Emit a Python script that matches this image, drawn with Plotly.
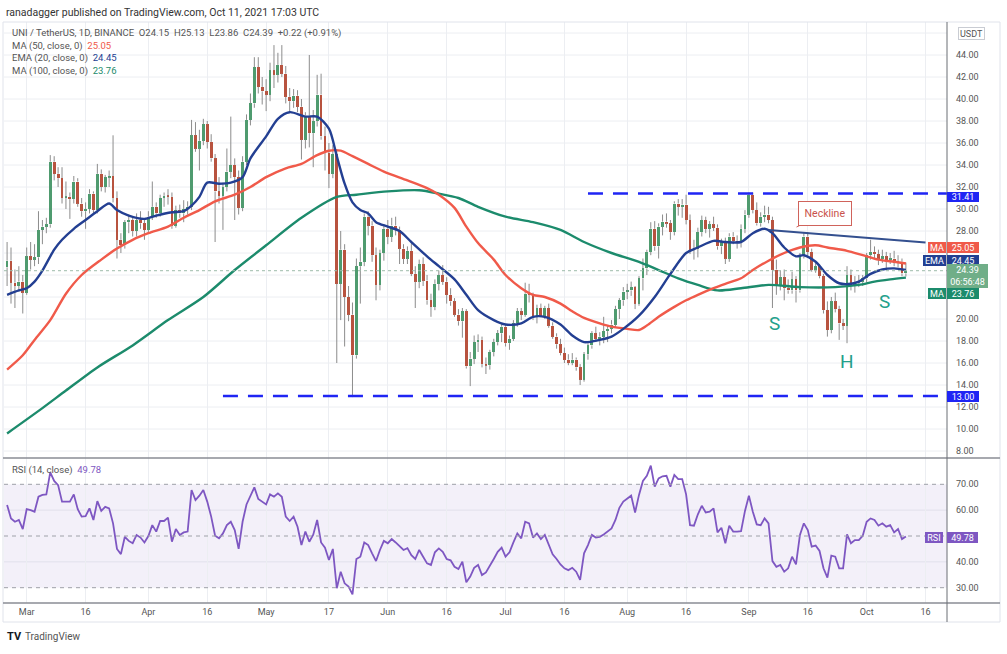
import pandas as pd
import plotly.graph_objects as go

# ---------------- data ----------------
dates = pd.date_range("2021-02-24", "2021-10-11", freq="D")

open_ = [
    # Feb 24-28
    24.7, 25.3, 23.3, 23.0, 23.4,
    # Mar
    22.4, 25.7, 25.4, 25.6, 28.1, 28.4, 28.6, 34.3, 33.2, 32.8, 31.0, 31.1, 30.9, 32.5, 30.5, 29.8,
    30.0, 31.4, 29.9, 33.2, 32.0, 32.9, 33.0, 31.0, 27.2, 26.7, 28.8, 29.0, 28.0, 29.0, 28.7,
    # Apr
    28.1, 29.3, 30.2, 29.6, 31.0, 31.2, 31.1, 28.5, 29.9, 29.6, 30.0, 30.2, 36.7, 35.5, 36.2,
    37.7, 36.1, 34.6, 31.6, 31.2, 32.0, 33.4, 34.0, 32.9, 30.1, 34.3, 38.1, 39.6, 42.9, 41.1,
    # May
    40.7, 40.4, 42.6, 42.2, 43.1, 42.3, 40.2, 39.8, 40.3, 39.3, 36.3, 38.5, 36.9, 38.0, 40.4, 36.6,
    35.1, 33.2, 35.0, 23.2, 26.3, 22.0, 20.4, 16.7, 24.8, 25.2, 29.3, 28.5, 25.8, 23.1, 26.0,
    # Jun
    28.2, 27.5, 28.5, 28.1, 26.4, 25.5, 26.2, 24.1, 23.4, 25.0, 23.5, 21.7, 21.1, 23.2, 24.0,
    23.4, 22.2, 21.6, 20.4, 19.8, 20.7, 15.7, 16.4, 17.9, 18.1, 15.9, 15.8, 17.0, 17.9, 18.7,
    # Jul
    19.3, 17.8, 18.2, 19.6, 20.7, 20.4, 22.3, 22.2, 20.2, 21.0, 20.3, 21.0, 19.4, 18.4, 17.7, 16.9,
    16.3, 16.0, 16.3, 15.6, 14.5, 16.8, 17.6, 18.7, 18.2, 18.4, 18.9, 19.1, 19.5, 20.9, 21.7,
    # Aug
    22.5, 22.6, 22.9, 21.4, 23.7, 24.6, 26.1, 28.2, 26.6, 28.4, 28.85, 28.7, 27.9, 30.5, 30.2, 30.4,
    29.0, 26.3, 26.4, 27.9, 29.0, 28.2, 28.6, 28.3, 26.6, 27.0, 25.5, 27.5, 27.1, 26.9, 28.2,
    # Sep
    29.5, 31.3, 29.9, 28.7, 29.3, 29.5, 29.0, 24.5, 23.1, 23.8, 22.8, 22.6, 23.6, 22.6, 25.7,
    27.5, 26.1, 24.5, 24.8, 23.9, 20.8, 19.0, 21.6, 20.9, 19.6, 19.4, 24.0, 23.0, 23.3, 23.4,
    # Oct 1-11
    23.7, 25.8, 26.1, 25.9, 25.5, 25.7, 25.4, 25.5, 25.1, 25.2, 24.15,
]
high = [
    27.0, 26.5, 24.5, 24.8, 24.0,
    26.5, 27.0, 26.8, 29.8, 29.0, 29.2, 34.9, 34.8, 33.8, 33.8, 32.5, 31.5, 33.0, 32.8, 31.0, 30.6,
    31.8, 31.6, 34.1, 33.6, 33.1, 33.5, 36.7, 31.6, 27.8, 29.0, 29.5, 29.2, 29.6, 29.8, 29.0,
    29.8, 32.5, 30.6, 31.3, 31.5, 31.8, 31.5, 30.3, 30.4, 30.8, 30.7, 38.1, 37.9, 37.2, 38.2,
    38.0, 36.8, 35.0, 32.9, 32.4, 35.5, 38.4, 34.6, 33.5, 34.8, 38.6, 40.5, 43.8, 43.8, 42.0,
    41.8, 43.3, 44.9, 44.2, 44.9, 43.0, 41.0, 40.9, 40.8, 40.0, 38.8, 44.0, 39.0, 42.2, 42.3, 37.5,
    36.0, 35.8, 35.4, 28.0, 26.8, 23.0, 21.5, 25.5, 26.5, 29.6, 29.8, 28.9, 26.5, 26.3, 28.6,
    29.0, 29.2, 29.3, 28.4, 26.8, 26.6, 26.9, 24.8, 25.4, 25.6, 24.0, 22.3, 23.6, 24.4, 24.9,
    23.8, 22.8, 21.9, 20.9, 21.0, 20.9, 17.0, 18.5, 18.6, 18.4, 16.5, 17.2, 18.2, 19.0, 19.6,
    19.5, 18.5, 19.9, 21.0, 21.0, 23.3, 23.2, 22.4, 21.3, 21.4, 21.2, 21.4, 19.7, 18.7, 18.2, 17.4,
    16.8, 16.9, 16.5, 15.9, 17.0, 17.8, 18.9, 19.3, 18.8, 20.2, 19.4, 19.9, 21.2, 21.9, 22.9,
    23.2, 23.4, 23.0, 23.9, 25.5, 26.3, 28.8, 28.9, 28.7, 29.5, 29.6, 29.0, 30.7, 30.9, 30.9, 31.3,
    29.5, 27.2, 28.3, 29.4, 29.3, 28.9, 29.3, 28.6, 27.3, 27.4, 27.8, 27.9, 27.6, 28.6, 29.9,
    31.5, 31.5, 30.6, 29.7, 30.3, 30.2, 29.3, 25.4, 24.4, 24.5, 23.6, 24.3, 23.9, 26.0, 27.8,
    27.9, 26.4, 25.2, 25.0, 24.1, 21.6, 22.0, 22.4, 21.2, 20.0, 24.8, 24.5, 23.9, 24.0, 24.0,
    26.0, 27.2, 26.6, 26.3, 26.3, 26.1, 26.0, 26.2, 25.8, 25.5, 25.13,
]
low = [
    23.0, 21.4, 21.0, 22.5, 20.5,
    22.2, 24.5, 24.8, 25.0, 26.8, 27.8, 28.3, 32.6, 32.0, 30.5, 30.0, 29.1, 30.5, 30.2, 29.3, 28.2,
    29.6, 29.5, 29.6, 31.6, 31.5, 32.0, 30.6, 25.5, 26.0, 26.4, 27.8, 27.5, 27.5, 28.2, 27.2,
    27.8, 29.0, 29.2, 29.3, 30.2, 30.4, 28.2, 28.3, 29.2, 28.8, 29.5, 29.9, 35.2, 33.5, 35.8,
    35.5, 34.3, 27.0, 30.5, 28.1, 31.6, 32.8, 29.0, 29.5, 29.8, 34.0, 37.6, 39.2, 40.5, 39.5,
    38.9, 39.8, 41.0, 41.5, 42.0, 39.6, 38.8, 39.2, 38.8, 34.5, 35.5, 35.6, 33.8, 37.5, 36.3, 33.5,
    31.9, 32.8, 16.0, 19.9, 17.5, 19.8, 12.9, 16.4, 21.4, 24.8, 27.6, 25.2, 21.7, 22.6, 25.3,
    26.8, 27.0, 27.6, 25.0, 25.0, 25.0, 23.9, 21.0, 22.8, 23.0, 21.3, 20.2, 20.8, 22.6, 23.1,
    21.4, 21.2, 20.2, 19.4, 18.3, 15.5, 13.9, 15.9, 17.0, 15.6, 15.0, 15.4, 16.6, 17.6, 17.9,
    17.5, 17.2, 18.0, 19.3, 19.9, 20.2, 21.5, 19.9, 19.6, 20.2, 20.0, 19.2, 18.2, 17.3, 16.7, 16.0,
    15.8, 15.8, 15.3, 14.0, 14.3, 16.3, 17.3, 17.9, 17.6, 17.8, 17.9, 18.7, 19.2, 20.0, 21.2,
    21.8, 22.1, 20.9, 21.2, 22.6, 24.0, 25.8, 26.2, 25.5, 27.6, 28.3, 27.2, 27.6, 29.4, 29.2, 28.6,
    25.9, 25.4, 25.6, 27.5, 27.8, 27.4, 28.0, 26.3, 25.9, 25.0, 25.2, 26.8, 26.4, 26.5, 27.8,
    29.2, 29.6, 28.5, 28.4, 28.8, 28.7, 21.0, 22.2, 22.6, 21.7, 22.3, 22.3, 21.5, 22.4, 25.5,
    25.8, 24.3, 24.2, 23.7, 20.5, 18.4, 18.7, 20.6, 18.1, 19.0, 17.8, 22.6, 22.4, 22.9, 23.0,
    23.3, 25.4, 25.5, 24.9, 25.1, 24.6, 25.0, 24.8, 24.7, 23.9, 23.86,
]
close = [
    25.3, 23.3, 23.0, 23.4, 22.4,
    25.7, 25.4, 25.6, 28.1, 28.4, 28.6, 34.3, 33.2, 32.8, 31.0, 31.1, 30.9, 32.5, 30.5, 29.8, 30.0,
    31.4, 29.9, 33.2, 32.0, 32.9, 33.0, 31.0, 27.2, 26.7, 28.8, 29.0, 28.0, 29.0, 28.7, 28.1,
    29.3, 30.2, 29.6, 31.0, 31.2, 31.1, 28.5, 29.9, 29.6, 30.0, 30.2, 36.7, 35.5, 36.2, 37.7,
    36.1, 34.6, 31.6, 31.2, 32.0, 33.4, 34.0, 32.9, 30.1, 34.3, 38.1, 39.6, 42.9, 41.1, 40.7,
    40.4, 42.6, 42.2, 43.1, 42.3, 40.2, 39.8, 40.3, 39.3, 36.3, 38.5, 36.9, 38.0, 40.4, 36.6, 35.1,
    33.2, 35.0, 23.2, 26.3, 22.0, 20.4, 16.7, 24.8, 25.2, 29.3, 28.5, 25.8, 23.1, 26.0, 28.2,
    27.5, 28.5, 28.1, 26.4, 25.5, 26.2, 24.1, 23.4, 25.0, 23.5, 21.7, 21.1, 23.2, 24.0, 23.4,
    22.2, 21.6, 20.4, 19.8, 20.7, 15.7, 16.4, 17.9, 18.1, 15.9, 15.8, 17.0, 17.9, 18.7, 19.3,
    17.8, 18.2, 19.6, 20.7, 20.4, 22.3, 22.2, 20.2, 21.0, 20.3, 21.0, 19.4, 18.4, 17.7, 16.9, 16.3,
    16.0, 16.3, 15.6, 14.5, 16.8, 17.6, 18.7, 18.2, 18.4, 18.9, 19.1, 19.5, 20.9, 21.7, 22.5,
    22.6, 22.9, 21.4, 23.7, 24.6, 26.1, 28.2, 26.6, 28.4, 28.85, 28.7, 27.9, 30.5, 30.2, 30.4, 29.0,
    26.3, 26.4, 27.9, 29.0, 28.2, 28.6, 28.3, 26.6, 27.0, 25.5, 27.5, 27.1, 26.9, 28.2, 29.5,
    31.3, 29.9, 28.7, 29.3, 29.5, 29.0, 24.5, 23.1, 23.8, 22.8, 22.6, 23.6, 22.6, 25.7, 27.5,
    26.1, 24.5, 24.8, 23.9, 20.8, 19.0, 21.6, 20.9, 19.6, 19.4, 24.0, 23.0, 23.3, 23.4, 23.7,
    25.8, 26.1, 25.9, 25.5, 25.7, 25.4, 25.5, 25.1, 25.2, 24.15, 24.39,
]
rsi = [
    62.0, 56.8, 55.5, 56.2, 52.7,
    60.4, 60.0, 59.4, 65.2, 65.9, 66.1, 74.6, 71.3, 69.7, 63.3, 63.3, 63.3, 66.1, 60.4, 57.5, 57.7,
    60.7, 56.2, 63.5, 59.7, 61.3, 60.7, 54.9, 45.0, 43.0, 49.7, 48.1, 47.2, 50.4, 49.4, 47.5,
    50.0, 54.2, 51.7, 55.8, 55.8, 57.1, 47.8, 52.7, 50.4, 51.4, 51.7, 67.8, 63.9, 65.6, 67.8,
    63.3, 57.5, 50.1, 49.1, 51.0, 54.2, 55.5, 52.3, 45.0, 55.5, 62.2, 65.2, 68.8, 64.3, 63.3,
    62.2, 66.1, 65.2, 66.5, 65.2, 57.5, 55.8, 57.5, 53.6, 46.5, 51.7, 47.8, 50.5, 56.2, 47.5, 45.5,
    40.7, 45.0, 29.8, 36.2, 31.7, 30.4, 27.4, 41.1, 42.0, 47.5, 46.5, 43.3, 40.3, 44.6, 48.1,
    47.2, 48.8, 47.5, 45.9, 44.6, 45.3, 42.6, 41.1, 44.6, 42.0, 39.4, 38.8, 43.7, 45.2, 43.9,
    41.1, 40.6, 38.1, 37.2, 40.1, 32.1, 34.3, 37.7, 38.8, 34.9, 35.9, 38.8, 41.1, 43.9, 45.5,
    42.0, 43.7, 47.5, 51.0, 49.1, 55.5, 54.9, 49.4, 51.0, 48.8, 50.4, 46.5, 42.9, 41.1, 39.0, 37.5,
    36.8, 37.7, 36.2, 33.0, 43.3, 46.5, 50.4, 49.4, 49.7, 50.6, 51.9, 52.9, 56.2, 60.9, 63.3,
    64.3, 65.6, 59.1, 65.9, 71.3, 73.3, 77.2, 69.1, 72.3, 73.1, 73.3, 69.1, 73.6, 72.0, 72.0, 66.1,
    54.2, 54.0, 58.4, 61.7, 59.1, 59.4, 60.7, 51.4, 53.2, 47.2, 54.0, 51.7, 51.7, 51.9, 59.7,
    65.6, 59.4, 54.5, 54.2, 56.8, 54.9, 40.3, 38.1, 38.8, 36.2, 37.5, 42.0, 39.0, 50.4, 54.9,
    52.3, 45.9, 46.3, 44.2, 37.5, 33.9, 42.4, 42.0, 37.5, 37.5, 50.6, 47.2, 48.4, 48.4, 50.1,
    55.5, 56.8, 56.2, 54.0, 54.9, 53.6, 54.2, 51.4, 52.7, 48.8, 49.78,
]

ma50_dates = ["2021-02-24", "2021-02-28", "2021-03-03", "2021-03-07", "2021-03-11", "2021-03-15",
              "2021-03-20", "2021-03-24", "2021-03-28", "2021-04-01", "2021-04-06", "2021-04-10",
              "2021-04-14", "2021-04-18", "2021-04-23", "2021-04-27", "2021-05-01", "2021-05-06",
              "2021-05-10", "2021-05-14", "2021-05-17", "2021-05-20", "2021-05-23", "2021-05-27",
              "2021-05-31", "2021-06-06", "2021-06-11", "2021-06-14", "2021-06-18", "2021-06-21",
              "2021-06-24", "2021-06-28", "2021-07-01", "2021-07-05", "2021-07-08", "2021-07-11",
              "2021-07-15", "2021-07-18", "2021-07-21", "2021-07-25", "2021-07-28", "2021-08-01",
              "2021-08-04", "2021-08-06", "2021-08-09", "2021-08-13", "2021-08-16", "2021-08-19",
              "2021-08-23", "2021-08-26", "2021-08-30", "2021-09-02", "2021-09-06", "2021-09-10",
              "2021-09-14", "2021-09-18", "2021-09-21", "2021-09-26", "2021-09-30", "2021-10-04",
              "2021-10-08", "2021-10-11"]
ma50 = [15.4, 16.7, 18.1, 19.9, 22.3, 24.0, 25.4, 26.4, 27.2, 27.8, 28.4, 29.2, 29.9, 30.7, 31.3,
        32.0, 32.9, 33.7, 34.1, 34.9, 35.3, 35.3, 34.8, 34.1, 33.4, 32.6, 31.9, 31.3, 30.1, 28.4,
        26.9, 25.4, 24.0, 22.8, 22.2, 22.0, 21.4, 20.7, 20.1, 19.6, 19.3, 19.1, 19.0, 19.4, 20.2,
        21.1, 21.7, 22.2, 22.8, 23.2, 23.7, 24.45, 25.3, 26.0, 26.5, 26.7, 26.5, 26.2, 25.8, 25.4,
        25.2, 25.05]

ema20_dates = ["2021-02-24", "2021-02-27", "2021-03-01", "2021-03-03", "2021-03-05", "2021-03-08",
               "2021-03-10", "2021-03-13", "2021-03-16", "2021-03-19", "2021-03-22", "2021-03-24",
               "2021-03-27", "2021-03-31", "2021-04-03", "2021-04-07", "2021-04-10", "2021-04-12",
               "2021-04-14", "2021-04-16", "2021-04-19", "2021-04-22", "2021-04-25", "2021-04-27",
               "2021-05-01", "2021-05-04", "2021-05-07", "2021-05-11", "2021-05-14", "2021-05-17",
               "2021-05-19", "2021-05-21", "2021-05-23", "2021-05-25", "2021-05-27", "2021-05-29",
               "2021-06-01", "2021-06-04", "2021-06-07", "2021-06-11", "2021-06-14", "2021-06-18",
               "2021-06-21", "2021-06-24", "2021-06-28", "2021-07-01", "2021-07-05", "2021-07-08",
               "2021-07-11", "2021-07-15", "2021-07-18", "2021-07-21", "2021-07-25", "2021-07-28",
               "2021-07-31", "2021-08-04", "2021-08-08", "2021-08-12", "2021-08-16", "2021-08-19",
               "2021-08-23", "2021-08-26", "2021-08-30", "2021-09-02", "2021-09-05", "2021-09-07",
               "2021-09-10", "2021-09-13", "2021-09-15", "2021-09-18", "2021-09-21", "2021-09-24",
               "2021-09-27", "2021-09-29", "2021-10-02", "2021-10-05", "2021-10-08", "2021-10-11"]
ema20 = [22.2, 22.6, 22.8, 23.4, 24.4, 26.3, 27.2, 28.2, 29.0, 29.8, 30.5, 29.9, 29.4, 29.1, 29.4,
         29.7, 29.8, 30.3, 31.1, 32.4, 32.3, 32.4, 32.9, 34.6, 36.6, 38.2, 38.8, 38.4, 38.4, 37.3,
         34.8, 32.3, 30.6, 29.9, 29.6, 28.8, 28.4, 28.0, 27.0, 25.7, 24.8, 23.6, 22.2, 20.8, 19.9,
         19.5, 19.6, 20.2, 20.2, 19.5, 18.5, 17.9, 18.1, 18.4, 19.1, 20.3, 22.0, 24.1, 26.0, 26.5,
         27.1, 27.0, 27.0, 27.8, 28.2, 27.8, 26.5, 25.7, 25.8, 25.2, 24.0, 23.25, 23.2, 23.4, 24.1,
         24.5, 24.6, 24.45]

ma100_dates = ["2021-02-24", "2021-03-05", "2021-03-11", "2021-03-19", "2021-03-28", "2021-04-06",
               "2021-04-15", "2021-04-23", "2021-05-01", "2021-05-10", "2021-05-19", "2021-05-24",
               "2021-06-01", "2021-06-09", "2021-06-14", "2021-06-19", "2021-06-24", "2021-07-01",
               "2021-07-08", "2021-07-15", "2021-07-21", "2021-07-28", "2021-08-04", "2021-08-09",
               "2021-08-14", "2021-08-19", "2021-08-24", "2021-08-30", "2021-09-06", "2021-09-14",
               "2021-09-23", "2021-09-29", "2021-10-03", "2021-10-07", "2021-10-11"]
ma100 = [9.6, 11.9, 13.5, 15.6, 17.6, 19.9, 22.0, 24.45, 26.7, 29.2, 31.1, 31.3, 31.6, 31.7, 31.4,
         31.0, 30.2, 29.3, 28.8, 28.1, 27.0, 26.0, 25.2, 24.45, 23.7, 23.1, 22.6, 22.8, 23.1, 22.9,
         22.9, 23.1, 23.4, 23.6, 23.76]

x_labels = ["Mar", "16", "Apr", "16", "May", "17", "Jun", "16", "Jul", "16", "Aug", "16",
            "Sep", "16", "Oct", "16"]
x_label_dates = ["2021-03-01", "2021-03-16", "2021-04-01", "2021-04-16", "2021-05-01", "2021-05-17",
                 "2021-06-01", "2021-06-16", "2021-07-01", "2021-07-16", "2021-08-01", "2021-08-16",
                 "2021-09-01", "2021-09-16", "2021-10-01", "2021-10-16"]
# price-scale labels that are not hidden behind the value tags
price_ticks = [8, 10, 12, 14, 16, 18, 20, 28, 30, 32, 34, 36, 38, 40, 42, 44]
price_grid = list(range(8, 48, 2))
rsi_ticks = [30, 40, 60, 70]
rsi_grid = [40, 60]

resistance = 31.41
support = 13.00
neck_dates = ["2021-09-06", "2021-10-16"]
neck_values = [28.1, 26.95]
last_close = 24.39

# ---------------- styling / geometry ----------------
UP = "#4f9b6f"
DOWN = "#b8533f"
WICK = "#8c8c8c"
RED = "#f05a4a"
NAVY = "#233f92"
TEAL = "#1c8b6c"
PURPLE = "#7e57c2"
LEVEL = "#1f25f4"
GRID = "#eceef2"
TXT = "#555555"
FONT = "Roboto"

PL, PR, PT, PB = 4, 947, 22, 603   # plot area in pixels


def px(x):
    return (x - PL) / (PR - PL)


def py(y):
    return (PB - y) / (PB - PT)


split = py(458)

fig = go.Figure()

# wicks (upper and lower parts so they do not cross the bodies)
wx, wy = [], []
for d, o, h, l, c in zip(dates, open_, high, low, close):
    top, bot = max(o, c), min(o, c)
    wx += [d, d, None, d, d, None]
    wy += [top, h, None, l, bot, None]
fig.add_trace(go.Scatter(x=wx, y=wy, mode="lines", line=dict(color=WICK, width=1),
                         hoverinfo="skip", xaxis="x", yaxis="y"))

bases = [min(o, c) for o, c in zip(open_, close)]
heights = [max(abs(c - o), 0.08) for o, c in zip(open_, close)]
colors = [UP if c >= o else DOWN for o, c in zip(open_, close)]
fig.add_trace(go.Bar(x=dates, y=heights, base=bases, marker=dict(color=colors, line_width=0),
                     width=0.72 * 86400000, xaxis="x", yaxis="y", hoverinfo="skip"))

for xs, ys, col in [(ma100_dates, ma100, TEAL), (ma50_dates, ma50, RED), (ema20_dates, ema20, NAVY)]:
    fig.add_trace(go.Scatter(x=xs, y=ys, mode="lines",
                             line=dict(color=col, width=2.4, shape="spline", smoothing=0.8),
                             xaxis="x", yaxis="y", hoverinfo="skip"))

fig.add_trace(go.Scatter(x=dates, y=rsi, mode="lines", line=dict(color=PURPLE, width=1.8),
                         xaxis="x2", yaxis="y2", hoverinfo="skip"))

x_start = pd.Timestamp("2021-03-01") - pd.Timedelta(days=(26.7 - PL) / 3.925)
x_end = pd.Timestamp("2021-03-01") + pd.Timedelta(days=(PR - 26.7) / 3.925)

axis_font = dict(family=FONT, size=9, color=TXT)
fig.update_layout(
    width=1007, height=654,
    margin=dict(l=PL, r=1007 - PR, t=PT, b=654 - PB),
    paper_bgcolor="white", plot_bgcolor="white",
    showlegend=False, barmode="overlay", bargap=0,
    font=dict(family=FONT, color=TXT),
    xaxis=dict(domain=[0, 1], anchor="y", type="date", range=[x_start, x_end],
               tickvals=x_label_dates, showticklabels=False, showgrid=True, gridcolor=GRID,
               zeroline=False, showline=False, ticks=""),
    xaxis2=dict(domain=[0, 1], anchor="y2", type="date", matches="x",
                tickvals=x_label_dates, ticktext=x_labels, tickfont=axis_font,
                showgrid=True, gridcolor=GRID, zeroline=False, showline=False, ticks="",
                ticklabelstandoff=2),
    yaxis=dict(domain=[split, 1], anchor="x", side="right",
               range=[44 - (458 - 55) / 11, 44 + (55 - PT) / 11],
               tickvals=price_ticks, tickformat=".2f", tickfont=axis_font,
               showgrid=False, zeroline=False, showline=False, ticks="",
               ticklabelstandoff=8),
    yaxis2=dict(domain=[0, split], anchor="x2", side="right",
                range=[70 - (PB - 484.3) / 2.585, 70 + (484.3 - 458) / 2.585],
                tickvals=rsi_ticks, tickformat=".2f", tickfont=axis_font,
                showgrid=False, zeroline=False, showline=False, ticks="",
                ticklabelstandoff=8),
)

shapes = []
# horizontal grid lines
for v in price_grid:
    shapes.append(dict(type="line", xref="paper", yref="y", x0=0, x1=1, y0=v, y1=v,
                       line=dict(color=GRID, width=1), layer="below"))
for v in rsi_grid:
    shapes.append(dict(type="line", xref="paper", yref="y2", x0=0, x1=1, y0=v, y1=v,
                       line=dict(color=GRID, width=1), layer="below"))
# RSI band and guide lines
shapes.append(dict(type="rect", xref="paper", yref="y2", x0=0, x1=1, y0=30, y1=70,
                   fillcolor="rgba(126,87,194,0.09)", line_width=0, layer="below"))
for v in (30, 50, 70):
    shapes.append(dict(type="line", xref="paper", yref="y2", x0=0, x1=1, y0=v, y1=v,
                       line=dict(color="#9ea1a8", width=1, dash="4px,4px")))
# support / resistance levels
shapes.append(dict(type="line", xref="x", yref="y", x0="2021-07-22", x1=x_end,
                   y0=resistance, y1=resistance, line=dict(color=LEVEL, width=2.6, dash="15px,10px")))
shapes.append(dict(type="line", xref="x", yref="y", x0="2021-04-20", x1=x_end,
                   y0=support, y1=support, line=dict(color=LEVEL, width=2.6, dash="15px,10px")))
# neckline
shapes.append(dict(type="line", xref="x", yref="y", x0=neck_dates[0], x1=neck_dates[1],
                   y0=neck_values[0], y1=neck_values[1], line=dict(color="#34508f", width=2)))
# last price dotted line
shapes.append(dict(type="line", xref="paper", yref="y", x0=0, x1=1, y0=last_close, y1=last_close,
                   line=dict(color="#9dbcaa", width=1, dash="dot")))
# frame, separators, price axis line
shapes.append(dict(type="rect", xref="paper", yref="paper", x0=px(3), x1=px(1000),
                   y0=py(622), y1=py(22), line=dict(color="#e0e3eb", width=1)))
shapes.append(dict(type="line", xref="paper", yref="paper", x0=px(3), x1=px(1000),
                   y0=split, y1=split, line=dict(color="#8a8d94", width=1.6)))
shapes.append(dict(type="line", xref="paper", yref="paper", x0=px(3), x1=px(1000),
                   y0=0, y1=0, line=dict(color="#8a8d94", width=1.6)))
shapes.append(dict(type="line", xref="paper", yref="paper", x0=1, x1=1,
                   y0=py(622), y1=py(22), line=dict(color="#6b6e75", width=1)))
fig.update_layout(shapes=shapes)

ann = []
NB = "\u00a0"


def txt(text, x, y, size=9.5, color=TXT, anchor="left"):
    ann.append(dict(text=text, xref="paper", yref="paper", x=px(x), y=py(y), xanchor=anchor,
                    yanchor="middle", showarrow=False, font=dict(family=FONT, size=size, color=color)))


txt("ranadagger published on TradingView.com, Oct 11, 2021 17:03 UTC", 4, 12, size=10.5, color="#333333")
txt(f"UNI / TetherUS, 1D, BINANCE{NB*2}O{open_[-1]:.2f}{NB*2}H{high[-1]:.2f}{NB*2}"
    f"L{low[-1]:.2f}{NB*2}C{close[-1]:.2f}{NB*2}+0.22 (+0.91%)", 10, 33)
txt(f"MA (50, close, 0){NB*2}<span style='color:{RED}'>{ma50[-1]:.2f}</span>", 10, 45.5)
txt(f"EMA (20, close, 0){NB*2}<span style='color:{NAVY}'>{ema20[-1]:.2f}</span>", 10, 58)
txt(f"MA (100, close, 0){NB*2}<span style='color:{TEAL}'>{ma100[-1]:.2f}</span>", 10, 71)
txt(f"RSI (14, close){NB*2}<span style='color:{PURPLE}'>{rsi[-1]:.2f}</span>", 10, 470)
txt("<b>TV</b>", 5, 636, size=11, color="#131722")
txt("TradingView", 23, 636, size=10, color="#555555")


def tag(text, x0, ypix, w, bg, h=11, fc="white", border=None):
    ann.append(dict(text=text, xref="paper", yref="paper", x=px(x0), y=py(ypix), xanchor="left",
                    yanchor="middle", showarrow=False, width=w, height=h, bgcolor=bg,
                    bordercolor=border or bg, borderwidth=1 if border else 0, borderpad=0,
                    align="center", font=dict(family=FONT, size=9, color=fc)))


tag(f"{resistance:.2f}", 947, 197, 32, LEVEL, h=10)
tag(f"{ma50[-1]:.2f}", 947, 248, 32, RED)
tag(f"{ema20[-1]:.2f}", 947, 260, 32, NAVY)
tag(f"{last_close:.2f}<br>06:56:48", 947, 276, 41, "#70ae88", h=24)
tag(f"{ma100[-1]:.2f}", 947, 293.5, 32, TEAL)
tag(f"{support:.2f}", 947, 396, 32, LEVEL)
tag("MA", 928, 248, 18, RED)
tag("EMA", 923, 260, 23, NAVY)
tag("MA", 928, 293.5, 18, TEAL)
tag("RSI", 925, 537.5, 18, PURPLE)
tag(f"{rsi[-1]:.2f}", 947, 537.5, 31, PURPLE)
tag("USDT", 958, 33, 25, "white", h=11, fc=TXT, border="#c9ccd3")

# pattern labels
for t, xd, yv in [("S", "2021-09-07 13:00", 19.55), ("H", "2021-09-26 02:00", 16.1),
                  ("S", "2021-10-05 12:00", 21.55)]:
    ann.append(dict(text=t, xref="x", yref="y", x=xd, y=yv, showarrow=False,
                    font=dict(family=FONT, size=19, color="#23a08b")))
ann.append(dict(text="Neckline", xref="x", yref="y", x="2021-09-13 03:00", y=28.36,
                ax=29, ay=-13.5, showarrow=True, arrowhead=0, arrowwidth=1, arrowcolor="#d0635b",
                width=50, height=21, bgcolor="white", bordercolor="#d0635b", borderwidth=1,
                font=dict(family=FONT, size=10.5, color="#c9524c")))
fig.update_layout(annotations=ann)

fig.write_html("out.html", config={"displayModeBar": False},
               post_script="document.body.style.margin='0';")
